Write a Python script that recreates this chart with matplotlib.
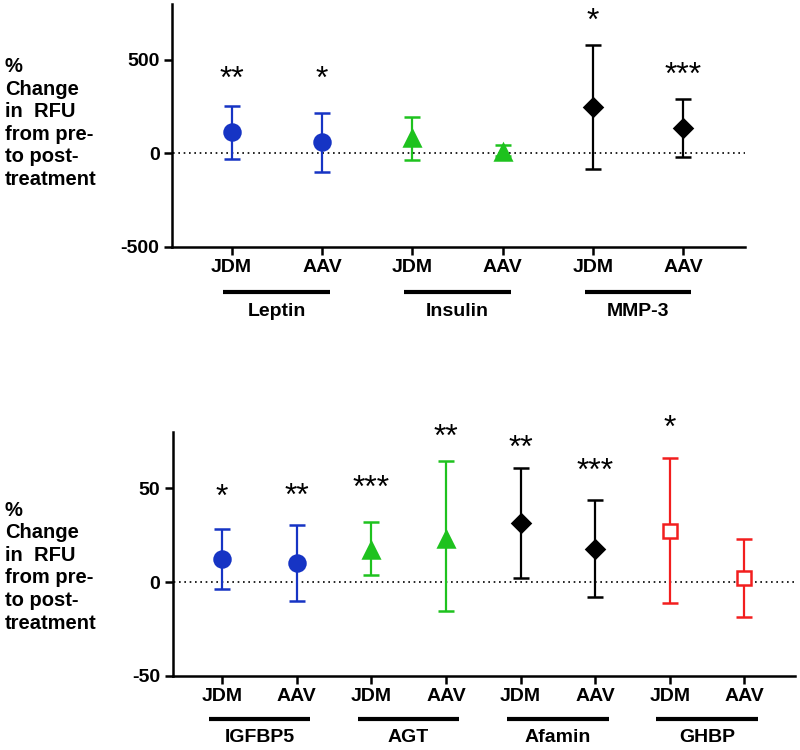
import numpy as np
import matplotlib
matplotlib.use("Agg")
import matplotlib.pyplot as plt

plt.rcParams['font.family'] = ['Liberation Sans', 'DejaVu Sans']
plt.rcParams['axes.unicode_minus'] = False

# Data
conditions = ['JDM', 'AAV']

top_proteins = ['Leptin', 'Insulin', 'MMP-3']
top_mean = [113, 59, 81, 5, 245, 134]
top_upper = [254, 213, 194, 43, 577, 290]
top_lower = [-31, -99, -38, -15, -83, -22]
top_stars = ['**', '*', '', '', '*', '***']
top_star_y = [426, 426, None, None, 735, 448]

bot_proteins = ['IGFBP5', 'AGT', 'Afamin', 'GHBP']
bot_mean = [12.5, 10.4, 17.2, 23.3, 31.5, 17.9, 27.3, 2.2]
bot_upper = [28.2, 30.5, 32.2, 64.8, 60.8, 43.9, 66.4, 22.9]
bot_lower = [-3.4, -9.8, 3.8, -15.5, 2.2, -7.8, -11.3, -18.8]
bot_stars = ['*', '**', '***', '**', '**', '***', '*', '']
bot_star_y = [47.9, 48.8, 52.7, 80.0, 74.0, 61.8, 84.9, None]

# styles per protein group
blue = '#1634c4'
green = '#1ec21e'
red = '#f21e1e'
top_styles = [(blue, 'o', True), (green, '^', True), ('black', 'D', True)]
bot_styles = [(blue, 'o', True), (green, '^', True), ('black', 'D', True), (red, 's', False)]

ylabel = '%\nChange\nin  RFU\nfrom pre-\nto post-\ntreatment'

fig = plt.figure(figsize=(8, 7.5), dpi=100)
ax1 = fig.add_axes([0.215, 0.671, 0.716, 0.324])
ax2 = fig.add_axes([0.216, 0.0987, 0.778, 0.325])


def draw_panel(ax, proteins, styles, mean, upper, lower, stars, star_y,
               ylim, yticks, line_y, label_y, pad):
    n = len(mean)
    x = np.arange(1, n + 1)
    mean = np.array(mean, dtype=float)
    upper = np.array(upper, dtype=float)
    lower = np.array(lower, dtype=float)
    ax.plot([0, n + 1], [0, 0], color='black', lw=1.2,
            linestyle=(0, (1, 2.2)), zorder=1)
    for i in range(n):
        color, marker, filled = styles[i // 2]
        ms = 11.5 if marker == 'o' else (11 if marker == '^' else 9)
        if marker == 's':
            ms = 10.5
        ax.errorbar(x[i], mean[i],
                    yerr=[[mean[i] - lower[i]], [upper[i] - mean[i]]],
                    fmt=marker, color=color, ecolor=color, elinewidth=1.6,
                    capsize=5.5, capthick=1.6, ms=ms,
                    mfc=color if filled else 'white', mec=color, mew=1.8,
                    zorder=3)
        if stars[i]:
            ax.annotate(stars[i], (x[i], star_y[i]), xytext=(0, -10),
                        textcoords='offset points', ha='center',
                        va='baseline', fontsize=23, annotation_clip=False)
    ax.set_xlim(0.34, n + 0.68)
    ax.set_ylim(*ylim)
    ax.set_yticks(yticks)
    ax.set_xticks(x)
    ax.set_xticklabels(conditions * (n // 2))
    for s in ['top', 'right']:
        ax.spines[s].set_visible(False)
    for s in ['left', 'bottom']:
        ax.spines[s].set_linewidth(1.8)
    ax.tick_params(axis='both', width=1.8, length=6, labelsize=14, pad=3)
    for lab in ax.get_xticklabels() + ax.get_yticklabels():
        lab.set_fontweight('bold')
    trans = ax.get_xaxis_transform()
    for g, name in enumerate(proteins):
        x0 = 2 * g + 1
        ax.plot([x0 - pad, x0 + 1 + pad], [line_y, line_y], color='black',
                lw=3, transform=trans, clip_on=False, solid_capstyle='butt')
        ax.text(x0 + 0.5, label_y, name, transform=trans, ha='center',
                va='center', fontsize=14, fontweight='bold')


draw_panel(ax1, top_proteins, top_styles, top_mean, top_upper, top_lower,
           top_stars, top_star_y, (-500, 800), [-500, 0, 500],
           -0.185, -0.268, 0.09)
draw_panel(ax2, bot_proteins, bot_styles, bot_mean, bot_upper, bot_lower,
           bot_stars, bot_star_y, (-50, 80), [-50, 0, 50],
           -0.176, -0.254, 0.18)

fig.text(0.006, 0.836, ylabel, ha='left', va='center', fontsize=14.5,
         fontweight='bold', linespacing=1.24)
fig.text(0.006, 0.2446, ylabel, ha='left', va='center', fontsize=14.5,
         fontweight='bold', linespacing=1.24)

fig.savefig('out.png', dpi=100)
